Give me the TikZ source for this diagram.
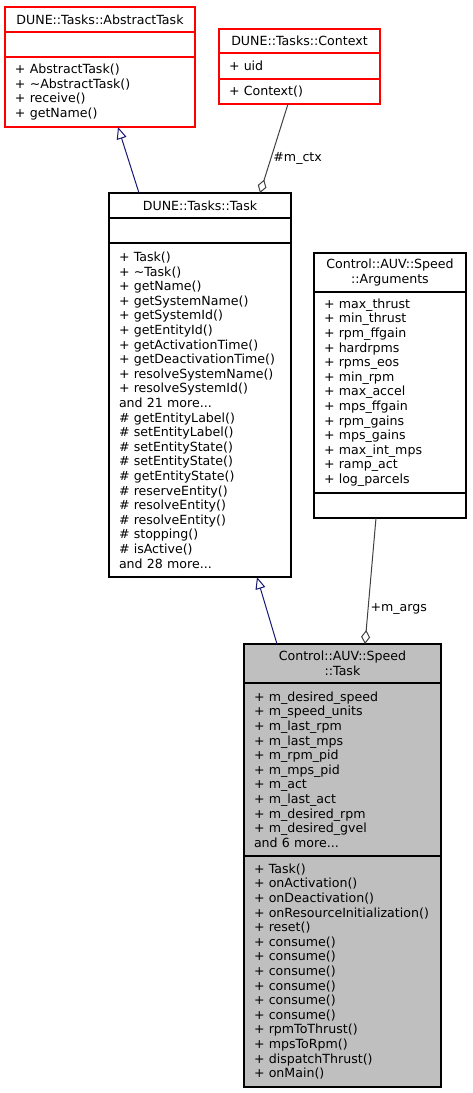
\documentclass[tikz,border=0pt]{standalone}
\usepackage{fontspec}
\setmainfont{DejaVu Sans}
\usetikzlibrary{positioning,arrows.meta}
\definecolor{inheritblue}{HTML}{191970}
\definecolor{usegray}    {HTML}{404040}
\definecolor{extred}     {HTML}{FF0000}
\definecolor{focusgray}  {HTML}{BFBFBF}

\begin{document}
\begin{tikzpicture}[
  x=1pt, y=-1pt,
  font=\fontsize{12.6}{14.6}\selectfont,
  part/.style 2 args={line width=1.2pt, fill=white, rectangle,
              minimum width=#1, text width=#2, inner xsep=10pt, inner ysep=0pt,
              outer sep=0pt, align=left},
  headrow/.style={align=center, minimum height=25pt},
  plainpart/.style={draw=black},
  extpart/.style={draw=extred},
  focus/.style={draw=black, fill=focusgray},
  inherit/.style={draw=inheritblue, line width=1pt, -{Triangle[open, length=12pt, width=10pt]}},
  member/.style={draw=usegray, line width=1pt, -{Diamond[open, length=14pt, width=9pt]}},
  role/.style={inner sep=2pt}
]
\useasboundingbox (0,0) rectangle (472,1093);

% base classes
\node[part={190pt}{170pt}, headrow, extpart, anchor=north west] (abstask) at (5,7) {DUNE::Tasks::AbstractTask};
\node[part={190pt}{170pt}, extpart, minimum height=25pt, below=0pt of abstask] (abstaskattr) {};
\node[part={190pt}{170pt}, extpart, minimum height=70pt, below=0pt of abstaskattr] (abstaskops)
  {+ AbstractTask()\\ + \textasciitilde AbstractTask()\\ + receive()\\ + getName()};

\node[part={161pt}{141pt}, headrow, extpart, minimum height=24pt, anchor=north west] (context) at (219,29) {DUNE::Tasks::Context};
\node[part={161pt}{141pt}, extpart, minimum height=26pt, below=0pt of context] (contextattr) {+ uid};
\node[part={161pt}{141pt}, extpart, minimum height=25pt, below=0pt of contextattr] (contextops) {+ Context()};

\node[part={182pt}{162pt}, headrow, plainpart, anchor=north west] (task) at (109,193) {DUNE::Tasks::Task};
\node[part={182pt}{162pt}, plainpart, minimum height=25pt, below=0pt of task] (taskattr) {};
\node[part={182pt}{162pt}, plainpart, minimum height=334pt, below=0pt of taskattr] (taskops)
  {+ Task()\\ + \textasciitilde Task()\\ + getName()\\ + getSystemName()\\ + getSystemId()\\
   + getEntityId()\\ + getActivationTime()\\ + getDeactivationTime()\\ + resolveSystemName()\\
   + resolveSystemId()\\ and 21 more...\\ \# getEntityLabel()\\ \# setEntityLabel()\\
   \# setEntityState()\\ \# setEntityState()\\ \# getEntityState()\\ \# reserveEntity()\\
   \# resolveEntity()\\ \# resolveEntity()\\ \# stopping()\\ \# isActive()\\ and 28 more...};

\node[part={152pt}{132pt}, headrow, plainpart, minimum height=39pt, anchor=north west] (args) at (314,253) {Control::AUV::Speed\\ ::Arguments};
\node[part={152pt}{132pt}, plainpart, minimum height=201pt, below=0pt of args] (argsattr)
  {+ max\_thrust\\ + min\_thrust\\ + rpm\_ffgain\\ + hardrpms\\ + rpms\_eos\\ + min\_rpm\\
   + max\_accel\\ + mps\_ffgain\\ + rpm\_gains\\ + mps\_gains\\ + max\_int\_mps\\ + ramp\_act\\
   + log\_parcels};
\node[part={152pt}{132pt}, plainpart, minimum height=25pt, below=0pt of argsattr] (argsops) {};

% the class itself
\node[part={197pt}{177pt}, headrow, focus, minimum height=39pt, anchor=north west] (speed) at (244,644) {Control::AUV::Speed\\ ::Task};
\node[part={197pt}{177pt}, focus, minimum height=173pt, below=0pt of speed] (speedattr)
  {+ m\_desired\_speed\\ + m\_speed\_units\\ + m\_last\_rpm\\ + m\_last\_mps\\ + m\_rpm\_pid\\
   + m\_mps\_pid\\ + m\_act\\ + m\_last\_act\\ + m\_desired\_rpm\\ + m\_desired\_gvel\\ and 6 more...};
\node[part={197pt}{177pt}, focus, minimum height=231pt, below=0pt of speedattr] (speedops)
  {+ Task()\\ + onActivation()\\ + onDeactivation()\\ + onResourceInitialization()\\ + reset()\\
   + consume()\\ + consume()\\ + consume()\\ + consume()\\ + consume()\\ + consume()\\
   + rpmToThrust()\\ + mpsToRpm()\\ + dispatchThrust()\\ + onMain()};

% relations
\draw[inherit] ([xshift=-61pt]task.north) -- ([xshift=18pt]abstaskops.south);
\draw[member] ([xshift=-11.5pt]contextops.south) -- node[role, right, pos=0.61] {\#m\_ctx} ([xshift=60pt]task.north);
\draw[inherit] ([xshift=-65.5pt]speed.north) -- ([xshift=57pt]taskops.south);
\draw[member] ([xshift=-14pt]argsops.south) -- node[role, right, pos=0.72] {+m\_args} ([xshift=22.5pt]speed.north);
\end{tikzpicture}
\end{document}
